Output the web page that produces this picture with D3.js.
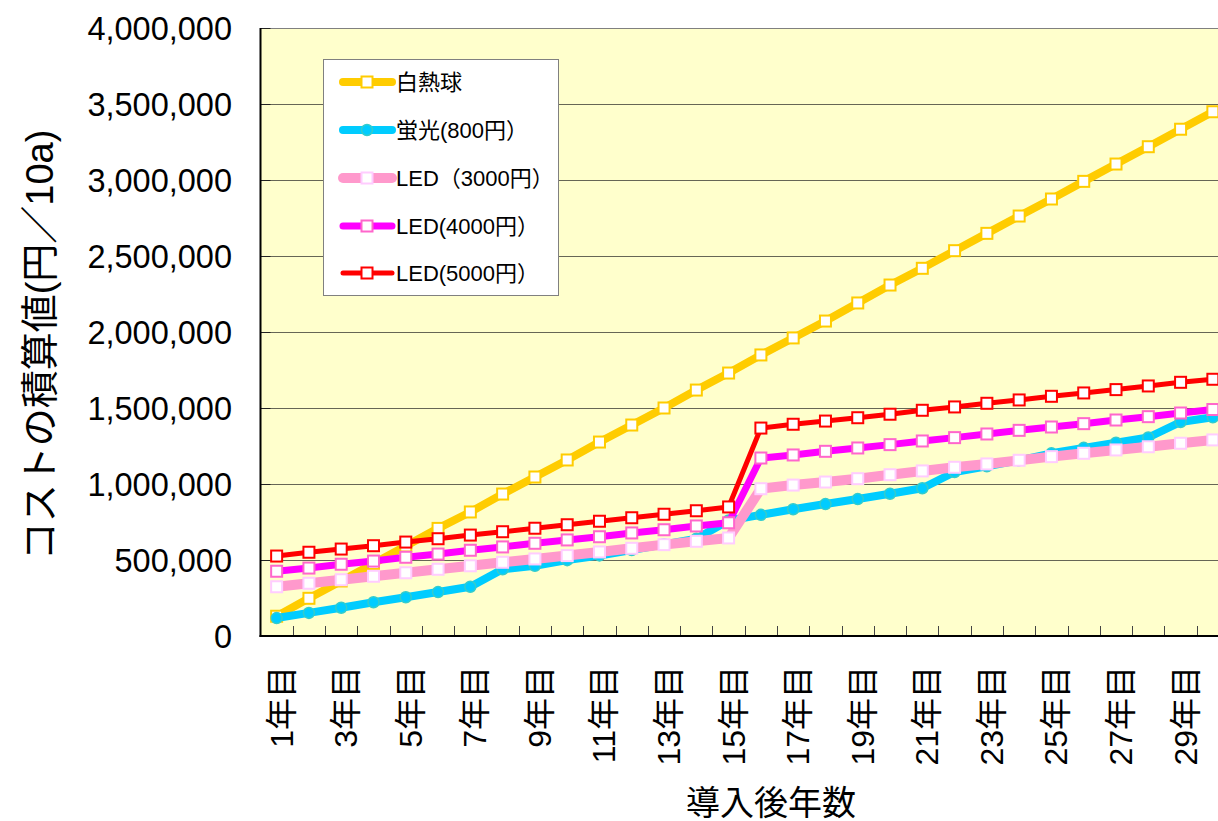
<!DOCTYPE html>
<html>
<head>
<meta charset="utf-8">
<script src="https://cdn.jsdelivr.net/npm/d3@7"></script>
<style>
  html, body { margin: 0; padding: 0; background: #ffffff; }
  svg { display: block; }
  text { font-family: 'Liberation Sans', 'Noto Sans CJK JP', sans-serif; fill: #000; }
</style>
</head>
<body>
<svg id="chart" width="1218" height="821"></svg>
<script>
// Cumulative cost per 10a (yen) after installation, by year
const years = ["1年目","2年目","3年目","4年目","5年目","6年目","7年目","8年目","9年目","10年目",
               "11年目","12年目","13年目","14年目","15年目","16年目","17年目","18年目","19年目","20年目",
               "21年目","22年目","23年目","24年目","25年目","26年目","27年目","28年目","29年目","30年目"];

const incandescent = [130000, 248000, 362000, 477000, 592000, 708000, 816000, 934000, 1046000, 1158000,
                      1276000, 1388000, 1500000, 1618000, 1730000, 1849000, 1961000, 2072000, 2191000, 2309000,
                      2419000, 2535000, 2649000, 2763000, 2875000, 2991000, 3105000, 3219000, 3334000, 3449000];
const fluorescent  = [118000, 152000, 186000, 222000, 255000, 289000, 324000, 439000, 462000, 499000,
                      530000, 566000, 603000, 640000, 760000, 797000, 834000, 868000, 901000, 936000,
                      972000, 1079000, 1116000, 1156000, 1202000, 1238000, 1272000, 1306000, 1408000, 1439000];
const led3000      = [324000, 347000, 370000, 393000, 416000, 439000, 462000, 485000, 507000, 529000,
                      553000, 577000, 601000, 623000, 645000, 969000, 993000, 1013000, 1035000, 1061000,
                      1086000, 1110000, 1132000, 1156000, 1180000, 1202000, 1224000, 1245000, 1268000, 1290000];
const led4000      = [426000, 447000, 472000, 493000, 518000, 539000, 564000, 586000, 610000, 632000,
                      653000, 678000, 699000, 724000, 745000, 1171000, 1191000, 1215000, 1237000, 1259000,
                      1283000, 1305000, 1329000, 1353000, 1375000, 1397000, 1421000, 1443000, 1467000, 1490000];
const led5000      = [526000, 551000, 572000, 594000, 618000, 640000, 664000, 686000, 709000, 732000,
                      755000, 778000, 801000, 824000, 849000, 1368000, 1393000, 1414000, 1436000, 1459000,
                      1485000, 1507000, 1531000, 1553000, 1577000, 1599000, 1621000, 1645000, 1669000, 1689000];

const seriesNames = ["白熱球", "蛍光(800円）", "LED（3000円）", "LED(4000円）", "LED(5000円）"];
const seriesValues = [incandescent, fluorescent, led3000, led4000, led5000];
const yTicks = [0, 500000, 1000000, 1500000, 2000000, 2500000, 3000000, 3500000, 4000000];

// Drawing styles per series (same order as seriesNames)
const styles = [
  { line: "#FFCC00", width: 8,  shape: "square", mStroke: "#FFCC00", mFill: "#ffffff" },
  { line: "#00CCFF", width: 8,  shape: "circle", mStroke: "#33CCCC", mFill: "#00CCFF" },
  { line: "#FF99CC", width: 10, shape: "square", mStroke: "#FFCCFF", mFill: "#ffffff" },
  { line: "#FF00FF", width: 7,  shape: "square", mStroke: "#FF66CC", mFill: "#ffffff" },
  { line: "#FF0000", width: 5,  shape: "square", mStroke: "#FF0000", mFill: "#ffffff" }
];

const svg = d3.select("#chart");
const plot = { left: 260.5, right: 1229, top: 28, bottom: 636 };

const x = d3.scaleBand().domain(years).range([plot.left, plot.right]).paddingInner(0).paddingOuter(0);
const cx = d => x(d) + x.bandwidth() / 2;
const y = d3.scaleLinear().domain([0, 4000000]).range([plot.bottom, plot.top]);

// Plot background
svg.append("rect")
  .attr("x", plot.left).attr("y", plot.top)
  .attr("width", plot.right - plot.left).attr("height", plot.bottom - plot.top)
  .attr("fill", "#FFFFCC");

// Horizontal gridlines
svg.append("g").selectAll("line").data(yTicks.filter(t => t > 0)).join("line")
  .attr("x1", plot.left).attr("x2", plot.right)
  .attr("y1", d => Math.round(y(d)) + 0.5).attr("y2", d => Math.round(y(d)) + 0.5)
  .attr("stroke", d => d === 4000000 ? "#808080" : "#666655").attr("stroke-width", 1);

// Y axis with inward ticks
const yAxis = d3.axisRight(y).tickValues(yTicks).tickSize(10).tickFormat("");
const yG = svg.append("g").attr("transform", `translate(${plot.left},0)`).call(yAxis);
yG.select(".domain").remove();
yG.selectAll(".tick line").attr("stroke", "#222").attr("stroke-width", 1);
svg.append("line")
  .attr("x1", plot.left).attr("x2", plot.left).attr("y1", plot.top).attr("y2", plot.bottom + 1)
  .attr("stroke", "#000").attr("stroke-width", 2);

// Y tick labels
svg.append("g").selectAll("text").data(yTicks).join("text")
  .attr("x", 232).attr("y", d => y(d) + 1)
  .attr("text-anchor", "end").attr("dominant-baseline", "central")
  .attr("font-size", 32.5)
  .text(d => d3.format(",")(d));

// X axis: ticks at category boundaries, pointing up into the plot
const boundaries = years.slice(1).map(d => x(d));
svg.append("g").selectAll("line").data(boundaries).join("line")
  .attr("x1", d => Math.round(d) + 0.5).attr("x2", d => Math.round(d) + 0.5)
  .attr("y1", plot.bottom - 10).attr("y2", plot.bottom)
  .attr("stroke", "#444").attr("stroke-width", 1);
svg.append("line")
  .attr("x1", plot.left - 1).attr("x2", plot.right).attr("y1", plot.bottom).attr("y2", plot.bottom)
  .attr("stroke", "#000").attr("stroke-width", 2);

// X tick labels (every other year), vertical
svg.append("g").selectAll("text").data(years.filter((d, i) => i % 2 === 0)).join("text")
  .attr("transform", d => `translate(${cx(d) + 5},666) rotate(-90)`)
  .attr("text-anchor", "end").attr("dominant-baseline", "central")
  .attr("font-size", 32)
  .text(d => d);

// Axis titles
svg.append("text")
  .attr("transform", "translate(40,345) rotate(-90)")
  .attr("text-anchor", "middle").attr("dominant-baseline", "central")
  .attr("font-size", 38)
  .text("コストの積算値(円／10a)");
svg.append("text")
  .attr("x", 771).attr("y", 815)
  .attr("text-anchor", "middle")
  .attr("font-size", 34)
  .text("導入後年数");

// Marker helper
function drawMarker(g, st, px, py) {
  if (st.shape === "circle") {
    g.append("circle").attr("cx", px).attr("cy", py).attr("r", 5.5)
      .attr("fill", st.mFill).attr("stroke", st.mStroke).attr("stroke-width", 1.5);
  } else {
    g.append("rect").attr("x", px - 5.5).attr("y", py - 5.5).attr("width", 11).attr("height", 11)
      .attr("fill", st.mFill).attr("stroke", st.mStroke).attr("stroke-width", 2);
  }
}

// Series lines and markers
const line = d3.line().x((v, i) => cx(years[i])).y(v => y(v));
const seriesG = svg.append("g");
seriesValues.forEach((vals, si) => {
  const st = styles[si];
  const g = seriesG.append("g");
  g.append("path").attr("d", line(vals))
    .attr("fill", "none").attr("stroke", st.line).attr("stroke-width", st.width)
    .attr("stroke-linejoin", "round");
  vals.forEach((v, i) => drawMarker(g, st, cx(years[i]), y(v)));
});

// Legend
const legend = svg.append("g");
legend.append("rect")
  .attr("x", 323.5).attr("y", 59.5).attr("width", 235).attr("height", 236)
  .attr("fill", "#ffffff").attr("stroke", "#808080").attr("stroke-width", 1);
const legendY = [82, 130, 178, 226, 273];
seriesNames.forEach((name, si) => {
  const st = styles[si];
  const ly = legendY[si];
  legend.append("line")
    .attr("x1", 343).attr("x2", 392).attr("y1", ly).attr("y2", ly)
    .attr("stroke", st.line).attr("stroke-width", st.width).attr("stroke-linecap", "round");
  drawMarker(legend, st, 367, ly);
  legend.append("text")
    .attr("x", 396).attr("y", ly)
    .attr("dominant-baseline", "central")
    .attr("font-size", 22)
    .text(name);
});
</script>
</body>
</html>
